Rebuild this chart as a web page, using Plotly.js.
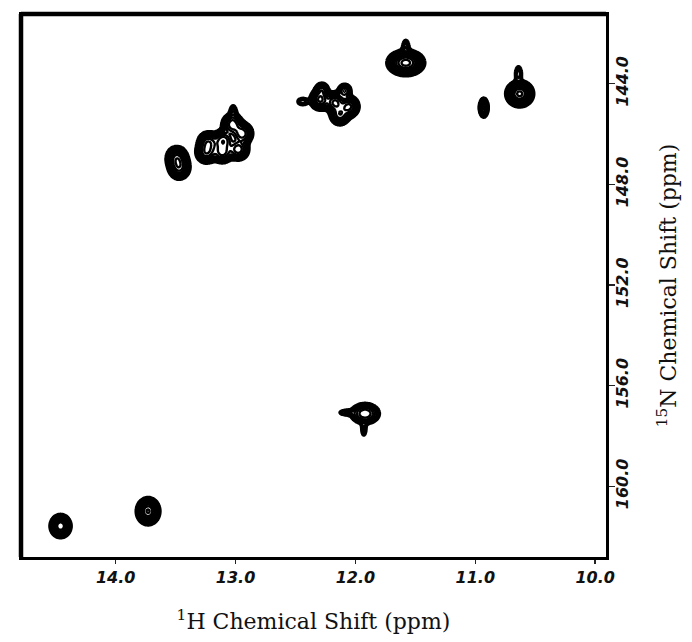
<!DOCTYPE html>
<html>
<head>
<meta charset="utf-8">
<script src="https://cdn.plot.ly/plotly-3.0.1.min.js"></script>
<style>html,body{margin:0;padding:0;background:#fff;}#chart{width:692px;height:642px;}</style>
</head>
<body>
<div id="chart"></div>
<script>
// Peak list (ppm)
const peakH      = [11.58, 11.58, 10.63, 10.64, 10.93,
                    12.44, 12.295, 12.17, 12.054, 12.13, 12.28, 12.09,
                    13.027, 12.944, 13.102, 13.227, 13.243, 12.977, 13.11, 13.02,
                    13.49, 13.47, 11.92, 11.93, 12.08, 13.73, 14.46];
const peakN      = [143.17, 142.55, 144.40, 143.60, 144.95,
                    144.71, 144.63, 144.75, 144.91, 145.23, 144.24, 144.28,
                    145.62, 145.98, 146.26, 146.34, 146.73, 146.61, 146.73, 145.15,
                    146.96, 147.33, 157.11, 157.75, 157.07, 160.99, 161.58];
const peakHeight = [1.16, 0.15, 1.1, 0.15, 0.6,
                    0.15, 0.6, 0.6, 0.6, 0.5, 0.3, 0.3,
                    0.5, 0.5, 0.5, 0.5, 0.5, 0.5, 0.45, 0.15,
                    0.6, 0.6, 0.4, 0.1, 0.12, 1.05, 0.98];
const peakWidthH = [0.065, 0.02, 0.049, 0.02, 0.019,
                    0.03, 0.04, 0.04, 0.04, 0.04, 0.03, 0.03,
                    0.043, 0.043, 0.043, 0.043, 0.043, 0.043, 0.043, 0.02,
                    0.042, 0.042, 0.061, 0.018, 0.04, 0.042, 0.038];
const peakWidthN = [0.215, 0.2, 0.22, 0.2, 0.18,
                    0.1, 0.2, 0.2, 0.2, 0.2, 0.15, 0.15,
                    0.21, 0.21, 0.21, 0.21, 0.21, 0.21, 0.21, 0.2,
                    0.22, 0.22, 0.21, 0.2, 0.08, 0.23, 0.2];

const xTickVals = [14, 13, 12, 11, 10];
const xTickText = ['14.0', '13.0', '12.0', '11.0', '10.0'];
const yTickVals = [144, 148, 152, 156, 160];
const yTickText = ['144.0', '148.0', '152.0', '156.0', '160.0'];

// spectrum grid built from the peak list
const xs = [], ys = [];
for (let v = 9.9; v <= 14.8; v += 0.008) xs.push(+v.toFixed(4));
for (let v = 141.2; v <= 162.85; v += 0.04) ys.push(+v.toFixed(3));
const z = ys.map(n => xs.map(h => {
  let s = 0;
  for (let i = 0; i < peakH.length; i++) {
    const dh = (h - peakH[i]) / peakWidthH[i];
    const dn = (n - peakN[i]) / peakWidthN[i];
    const q = dh * dh + dn * dn;
    if (q < 40) s += peakHeight[i] * Math.exp(-0.5 * q);
  }
  return Math.log(Math.max(s, 1e-6));
}));

const trace = {
  type: 'contour', x: xs, y: ys, z: z,
  autocontour: false,
  contours: {start: -3, end: 0.9, size: 0.3, coloring: 'none'},
  line: {color: '#000', width: 2.4, smoothing: 1},
  showscale: false, hoverinfo: 'skip'
};

const tickFont = {family: 'DejaVu Sans, sans-serif', size: 16, weight: 'bold', style: 'italic', color: '#111'};
const titleFont = {family: 'DejaVu Serif, serif', size: 22, color: '#111'};

const layout = {
  width: 692, height: 642,
  margin: {l: 21, r: 86, t: 14, b: 85},
  paper_bgcolor: '#fff', plot_bgcolor: '#fff',
  showlegend: false,
  xaxis: {
    range: [14.79, 9.91], tickvals: xTickVals, ticktext: xTickText,
    ticks: 'outside', ticklen: 4, tickwidth: 1.5, tickcolor: '#222',
    showline: true, linewidth: 2.5, linecolor: '#000', mirror: true,
    showgrid: false, zeroline: false, tickfont: tickFont,
    title: {text: '<sup>1</sup>H Chemical Shift (ppm)', font: titleFont, standoff: 28}
  },
  yaxis: {
    range: [162.81, 141.23], side: 'right', tickvals: yTickVals, ticktext: yTickText,
    ticks: 'outside', ticklen: 6, tickwidth: 1.5, tickcolor: '#222', tickangle: -90,
    ticklabelstandoff: -6,
    showline: true, linewidth: 2.5, linecolor: '#000', mirror: true,
    showgrid: false, zeroline: false, tickfont: tickFont,
    title: {text: '<sup>15</sup>N Chemical Shift (ppm)', font: titleFont, standoff: 30}
  },
  shapes: [
    {type: 'line', xref: 'paper', yref: 'paper', x0: 0, x1: 1, y0: 1, y1: 1, line: {color: '#000', width: 4.5}},
    {type: 'line', xref: 'paper', yref: 'paper', x0: 0, x1: 0, y0: 0, y1: 1, line: {color: '#000', width: 4.5}}
  ]
};

Plotly.newPlot('chart', [trace], layout, {staticPlot: true, displayModeBar: false});
</script>
</body>
</html>
